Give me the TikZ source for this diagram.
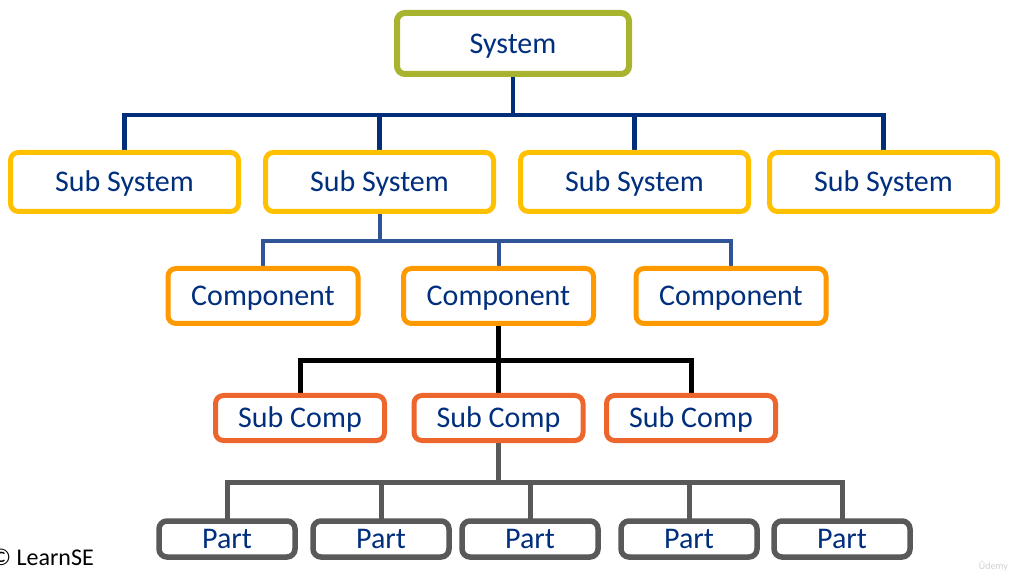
\documentclass[tikz,border=0pt]{standalone}
\usepackage{fontspec}
\setmainfont{Carlito}
\usetikzlibrary{backgrounds}
\definecolor{olive}{RGB}{169,180,46}
\definecolor{ssyellow}{RGB}{255,192,0}
\definecolor{comporange}{RGB}{255,153,0}
\definecolor{subred}{RGB}{237,102,45}
\definecolor{partgray}{RGB}{89,89,89}
\definecolor{navyline}{RGB}{0,46,120}
\definecolor{steelline}{RGB}{47,85,151}
\definecolor{txtblue}{RGB}{0,47,125}
\tikzset{
  box/.style={draw, rounded corners=8pt, fill=white, inner sep=0pt, text=txtblue,
    font=\fontsize{30}{32}\selectfont, text height=19.5pt, text depth=0pt},
  sysbox/.style={box, draw=olive, line width=6pt, minimum width=232pt, minimum height=61pt},
  ssbox/.style={box, draw=ssyellow, line width=5pt, minimum width=228pt, minimum height=59pt},
  compbox/.style={box, draw=comporange, line width=5pt, minimum width=190pt, minimum height=55pt},
  subbox/.style={box, draw=subred, line width=5pt, minimum width=169pt, minimum height=45pt},
  partbox/.style={box, draw=partgray, line width=5.5pt, minimum width=136pt, minimum height=36pt},
  link1/.style={draw=navyline, line width=4.5pt},
  link2/.style={draw=steelline, line width=4pt},
  link3/.style={draw=black, line width=5pt},
  link4/.style={draw=partgray, line width=5pt},
}
\begin{document}
\begin{tikzpicture}[x=1pt,y=-1pt]
\useasboundingbox (0,0) rectangle (1010,577);
\node[sysbox] (sys) at (513,43.5) {System};
\node[ssbox] (ss1) at (124.5,182) {Sub System};
\node[ssbox] (ss2) at (379.5,182) {Sub System};
\node[ssbox] (ss3) at (634.5,182) {Sub System};
\node[ssbox] (ss4) at (883.5,182) {Sub System};
\node[compbox] (c1) at (263,296) {Component};
\node[compbox] (c2) at (498.5,296) {Component};
\node[compbox] (c3) at (731,296) {Component};
\node[subbox] (s1) at (300,418) {Sub Comp};
\node[subbox] (s2) at (498.5,418) {Sub Comp};
\node[subbox] (s3) at (691,418) {Sub Comp};
\node[partbox] (p1) at (227,539) {Part};
\node[partbox] (p2) at (381,539) {Part};
\node[partbox] (p3) at (530,539) {Part};
\node[partbox] (p4) at (689,539) {Part};
\node[partbox] (p5) at (842,539) {Part};
\coordinate (j1) at (513,115);
\coordinate (j2) at (379.5,241);
\coordinate (j3) at (498.5,361);
\coordinate (j4) at (498.5,482);
\begin{pgfonlayer}{background}
\fill[white] (0,0) rectangle (1010,577);
\draw[link1] (sys.center) -- (j1);
\draw[link1] (ss1.center) |- (j1) -| (ss4.center);
\draw[link1] (ss2.center) -- (ss2.center |- j1);
\draw[link1] (ss3.center) -- (ss3.center |- j1);
\draw[link2] (ss2.center) -- (j2);
\draw[link2] (c1.center) |- (j2) -| (c3.center);
\draw[link2] (c2.center) -- (c2.center |- j2);
\draw[link3] (c2.center) -- (j3);
\draw[link3] (s1.center) |- (j3) -| (s3.center);
\draw[link3] (s2.center) -- (s2.center |- j3);
\draw[link4] (s2.center) -- (j4);
\draw[link4] (p1.center) |- (j4) -| (p5.center);
\draw[link4] (p2.center) -- (p2.center |- j4);
\draw[link4] (p3.center) -- (p3.center |- j4);
\draw[link4] (p4.center) -- (p4.center |- j4);
\end{pgfonlayer}
\node[anchor=base east, inner sep=0pt, font=\fontsize{24}{26}\selectfont] (copy) at (94,565) {© LearnSE};
\node[anchor=base east, inner sep=0pt, text=black!18, font=\fontsize{10}{11}\selectfont] (udemy) at (1008,569) {Ûdemy};
\end{tikzpicture}
\end{document}
